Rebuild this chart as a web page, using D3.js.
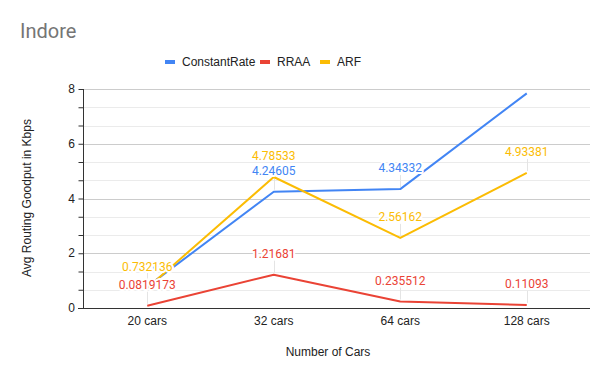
<!DOCTYPE html>
<html>
<head>
<meta charset="utf-8">
<script src="https://cdn.jsdelivr.net/npm/d3@7"></script>
<style>
  body { margin: 0; background: #fff; }
  text { font-family: Arial, "Liberation Sans", sans-serif; }
  .roboto { font-family: Roboto, Arial, sans-serif; }
</style>
</head>
<body>
<div id="chart"></div>
<script>
// categories and series
const categories = ['20 cars', '32 cars', '64 cars', '128 cars'];
const constantRate = [0.78, 4.24605, 4.34332, 7.84];
const rraa = [0.0819173, 1.21681, 0.235512, 0.11093];
const arf = [0.732136, 4.78533, 2.56162, 4.93381];
const seriesNames = ['ConstantRate', 'RRAA', 'ARF'];
const seriesColors = ['#4285F4', '#EA4335', '#FBBC04'];
// which points carry a data label (ConstantRate 128 cars has none)
const showLabel = [
    [true, true, true, false],
    [true, true, true, true],
    [true, true, true, true]
];
const yTicks = [0, 2, 4, 6, 8];

const width = 609;
const height = 379;

const svg = d3.select('#chart').append('svg')
    .attr('width', width)
    .attr('height', height);

const x = d3.scalePoint()
    .domain(categories)
    .range([84, 590])
    .padding(0.5);

const y = d3.scaleLinear()
    .domain([0, 8])
    .range([308, 89]);

// minor gridlines: 2 between each major tick
const minorTicks = [];
for (let i = 0; i < yTicks.length - 1; i++) {
    const step = (yTicks[i + 1] - yTicks[i]) / 3;
    minorTicks.push(yTicks[i] + step, yTicks[i] + 2 * step);
}

svg.append('g').selectAll('line')
    .data(minorTicks)
    .join('line')
    .attr('x1', 83).attr('x2', 590)
    .attr('y1', d => Math.round(y(d)) + 0.5)
    .attr('y2', d => Math.round(y(d)) + 0.5)
    .attr('stroke', '#ebebeb');

svg.append('g').selectAll('line')
    .data(yTicks.slice(1))
    .join('line')
    .attr('x1', 83).attr('x2', 590)
    .attr('y1', d => Math.round(y(d)) + 0.5)
    .attr('y2', d => Math.round(y(d)) + 0.5)
    .attr('stroke', '#cccccc');

// left axis with ticks on every gridline
const yAxis = svg.append('g')
    .attr('transform', 'translate(83.5,0)')
    .call(d3.axisLeft(y).tickValues(yTicks.concat(minorTicks)).tickSize(5).tickFormat(''));
yAxis.select('.domain').attr('stroke', '#333').attr('d', `M0,${y(8)}V${y(0)}`);
yAxis.selectAll('.tick line').attr('stroke', '#333');

svg.append('g').selectAll('text')
    .data(yTicks)
    .join('text')
    .attr('x', 75)
    .attr('y', d => y(d) + 4)
    .attr('text-anchor', 'end')
    .attr('font-size', '12px')
    .attr('fill', '#222')
    .text(d => d);

// bottom axis
svg.append('line')
    .attr('x1', 78).attr('x2', 590)
    .attr('y1', 308.5).attr('y2', 308.5)
    .attr('stroke', '#333');

svg.append('g').selectAll('text')
    .data(categories)
    .join('text')
    .attr('x', d => x(d))
    .attr('y', 325)
    .attr('text-anchor', 'middle')
    .attr('font-size', '12px')
    .attr('fill', '#222')
    .text(d => d);

const allSeries = [constantRate, rraa, arf];

const line = d3.line()
    .x((d, i) => x(categories[i]))
    .y(d => y(d));

// leader lines for labels
allSeries.forEach((vals, s) => {
    svg.append('g').selectAll('line')
        .data(vals.map((v, i) => ({ v, i })).filter(d => showLabel[s][d.i]))
        .join('line')
        .attr('x1', d => Math.round(x(categories[d.i])) + 0.5)
        .attr('x2', d => Math.round(x(categories[d.i])) + 0.5)
        .attr('y1', d => y(d.v) - 2)
        .attr('y2', d => y(d.v) - 14)
        .attr('stroke', '#e4e4e4');
});

allSeries.forEach((vals, s) => {
    svg.append('path')
        .datum(vals)
        .attr('fill', 'none')
        .attr('stroke', seriesColors[s])
        .attr('stroke-width', 2)
        .attr('stroke-linejoin', 'round')
        .attr('d', line);
});

// data labels
allSeries.forEach((vals, s) => {
    svg.append('g').selectAll('text')
        .data(vals.map((v, i) => ({ v, i })).filter(d => showLabel[s][d.i]))
        .join('text')
        .attr('class', 'roboto')
        .attr('x', d => x(categories[d.i]))
        .attr('y', d => y(d.v) - 17)
        .attr('text-anchor', 'middle')
        .attr('font-size', '12px')
        .attr('fill', seriesColors[s])
        .attr('stroke', '#fff')
        .attr('stroke-width', 4)
        .attr('stroke-linejoin', 'round')
        .attr('paint-order', 'stroke')
        .text(d => d.v);
});

// title
svg.append('text')
    .attr('class', 'roboto')
    .attr('x', 20)
    .attr('y', 38)
    .attr('font-size', '20px')
    .attr('fill', '#757575')
    .text('Indore');

// legend
const legendX = [165, 260, 320];
const legend = svg.append('g').selectAll('g')
    .data(seriesNames)
    .join('g')
    .attr('transform', (d, i) => `translate(${legendX[i]},62)`);
legend.append('rect')
    .attr('x', 0).attr('y', -2)
    .attr('width', 10).attr('height', 4)
    .attr('fill', (d, i) => seriesColors[i]);
legend.append('text')
    .attr('x', 17)
    .attr('y', 4)
    .attr('font-size', '12px')
    .attr('fill', '#222')
    .text(d => d);

// axis titles
svg.append('text')
    .attr('x', 328)
    .attr('y', 356)
    .attr('text-anchor', 'middle')
    .attr('font-size', '12px')
    .attr('fill', '#222')
    .text('Number of Cars');

svg.append('text')
    .attr('transform', 'translate(31,198) rotate(-90)')
    .attr('text-anchor', 'middle')
    .attr('font-size', '12px')
    .attr('fill', '#222')
    .text('Avg Routing Goodput in Kbps');
</script>
</body>
</html>
